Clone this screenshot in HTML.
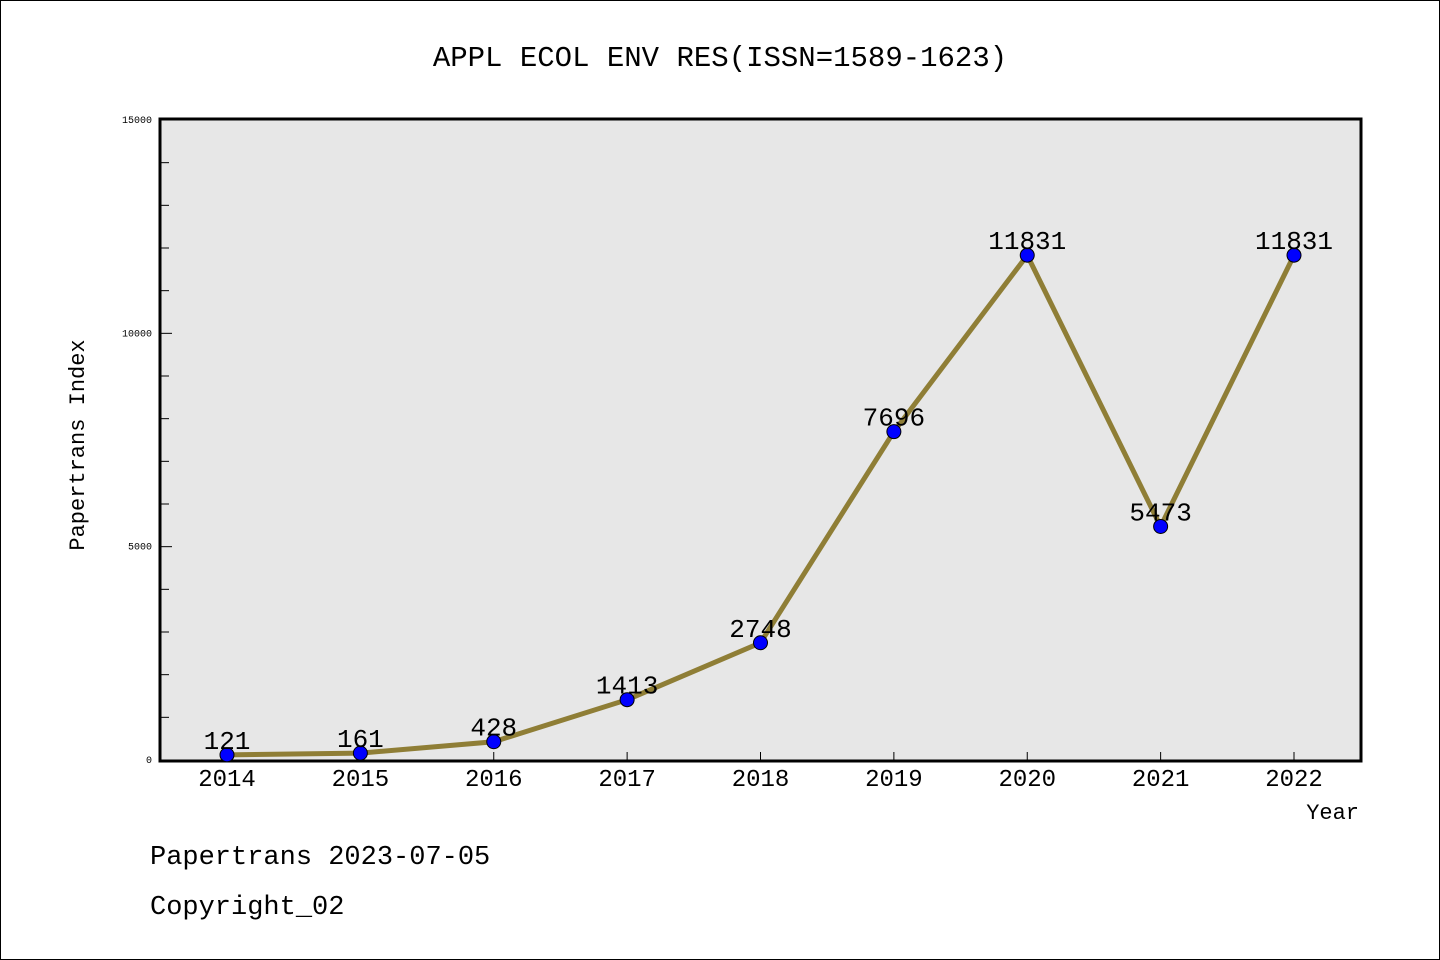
<!DOCTYPE html>
<html><head><meta charset="utf-8"><style>
body{margin:0;background:#fff;}
svg{display:block;font-family:"Liberation Mono","WenQuanYi Zen Hei",monospace;}
</style></head><body>
<svg width="1440" height="960">
<rect x="0.5" y="0.5" width="1439" height="959" fill="#fff" stroke="#000"/>
<text x="720" y="66" font-size="29" text-anchor="middle">APPL ECOL ENV RES(ISSN=1589-1623)</text>
<rect x="160" y="119" width="1201" height="642" fill="#e7e7e7" stroke="#000" stroke-width="3"/>
<g id="yaxis"></g><g id="xaxis"></g><g id="series"></g>
<text x="84" y="445" font-size="22" text-anchor="middle" transform="rotate(-90 84 445)">Papertrans Index</text>
<text x="1359" y="819" font-size="22" text-anchor="end">Year</text>
<text x="150" y="864" font-size="27">Papertrans 2023-07-05</text>
<text x="150" y="914" font-size="27">Copyright_02</text>
</svg>
<script>
const years=["2014","2015","2016","2017","2018","2019","2020","2021","2022"];
const values=[121,161,428,1413,2748,7696,11831,5473,11831];
const yTicks=[0,5000,10000,15000];
const NS="http://www.w3.org/2000/svg";
function X(i){return 227+i*(1294-227)/(years.length-1);}
function Y(v){return 760-v/15000*640;}
function mk(t,a,p){const e=document.createElementNS(NS,t);for(const k in a)e.setAttribute(k,a[k]);p.appendChild(e);return e;}
const ya=document.getElementById('yaxis'),xa=document.getElementById('xaxis'),se=document.getElementById('series');
for(let v=0;v<=15000;v+=1000){
 const major=v%5000===0;
 const l=mk('line',{x1:160,x2:major?172:169,y1:Y(v),y2:Y(v),stroke:'#000','stroke-width':1},ya);
 
 
}
yTicks.forEach(v=>{
 const t=mk('text',{x:152,y:Y(v)+3,'font-size':10,'text-anchor':'end'},ya);t.textContent=v;
 
 
});
years.forEach((y,i)=>{
 const l=mk('line',{x1:X(i),x2:X(i),y1:761,y2:752,stroke:'#000'},xa);
 
 
 const t=mk('text',{x:X(i),y:786,'font-size':24,'text-anchor':'middle'},xa);t.textContent=y;
 
 
});
const pl=mk('polyline',{points:values.map((v,i)=>X(i)+','+Y(v)).join(' '),fill:'none',stroke:'#8f7e36','stroke-width':5},se);


values.forEach((v,i)=>{
 const c=mk('circle',{cx:X(i),cy:Y(v),r:7,fill:'#0000ff',stroke:'#000','stroke-width':1},se);
 
 
 const t=mk('text',{x:X(i),y:Y(v)-6,'font-size':26,'text-anchor':'middle'},se);t.textContent=v;
 
 
});
</script>
</body></html>
